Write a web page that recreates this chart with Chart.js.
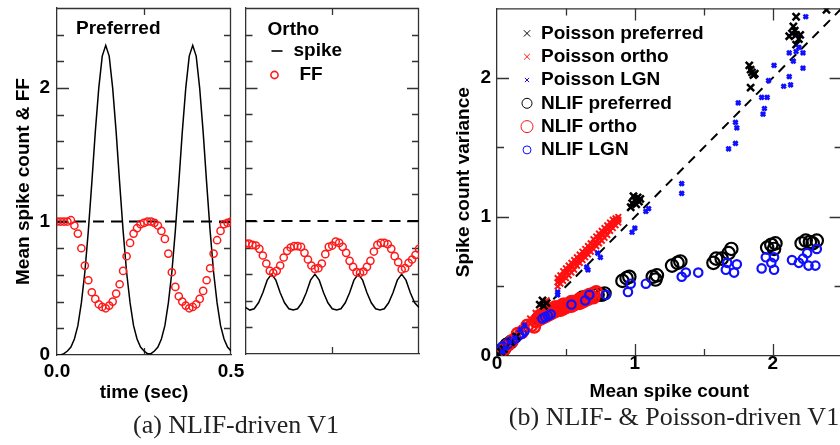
<!DOCTYPE html>
<html>
<head>
<meta charset="utf-8">
<script src="https://cdn.jsdelivr.net/npm/chart.js@4.4.1/dist/chart.umd.min.js"></script>
<style>
  html, body { margin: 0; padding: 0; background: #fff; width: 840px; height: 445px; overflow: hidden; }
  canvas { position: absolute; top: 0; }
  .caption {
    position: absolute; white-space: nowrap; transform: translateX(-50%);
    font-family: "Liberation Serif", "DejaVu Serif", serif; font-size: 26px; line-height: 30px; color: #222;
  }
</style>
</head>
<body>
<canvas id="prefChart" width="250" height="445" style="left:0"></canvas>
<canvas id="orthoChart" width="185" height="445" style="left:240px"></canvas>
<canvas id="scatterChart" width="430" height="445" style="left:420px"></canvas>
<div class="caption" style="left:236px;top:410px">(a) NLIF-driven V1</div>
<div class="caption" style="left:674px;top:402px">(b) NLIF- &amp; Poisson-driven V1</div>

<script>
// --- DONNEES : panneau (a) ---
const times = [0, 0.01, 0.02, 0.03, 0.04, 0.05, 0.06, 0.07, 0.08, 0.09,
  0.10, 0.11, 0.12, 0.13, 0.14, 0.15, 0.16, 0.17, 0.18, 0.19,
  0.20, 0.21, 0.22, 0.23, 0.24, 0.25, 0.26, 0.27, 0.28, 0.29,
  0.30, 0.31, 0.32, 0.33, 0.34, 0.35, 0.36, 0.37, 0.38, 0.39,
  0.40, 0.41, 0.42, 0.43, 0.44, 0.45, 0.46, 0.47, 0.48, 0.49, 0.50];

const prefSpike = [0.00, 0.00, 0.01, 0.03, 0.06, 0.12, 0.22, 0.39, 0.62, 0.93,
  1.29, 1.67, 2.00, 2.24, 2.32, 2.24, 2.00, 1.67, 1.29, 0.93,
  0.62, 0.39, 0.22, 0.12, 0.06, 0.03, 0.01, 0.01, 0.03, 0.06,
  0.12, 0.22, 0.39, 0.62, 0.93, 1.29, 1.67, 2.00, 2.24, 2.32,
  2.24, 2.00, 1.67, 1.29, 0.93, 0.62, 0.39, 0.22, 0.12, 0.06, 0.03];

const prefFF = [1.00, 1.00, 1.00, 1.00, 1.01, 0.97, 0.91, 0.80, 0.67, 0.56,
  0.47, 0.42, 0.38, 0.36, 0.35, 0.37, 0.40, 0.46, 0.53, 0.63,
  0.74, 0.84, 0.91, 0.95, 0.98, 0.99, 1.00, 1.00, 0.99, 0.97,
  0.93, 0.87, 0.76, 0.62, 0.51, 0.44, 0.40, 0.37, 0.35, 0.36,
  0.38, 0.42, 0.48, 0.56, 0.65, 0.76, 0.86, 0.93, 0.98, 0.99, 1.00];

const orthoTimes = [0, 0.0125, 0.025, 0.0375, 0.05, 0.0625, 0.075, 0.0875, 0.1, 0.1125,
  0.125, 0.1375, 0.15, 0.1625, 0.175, 0.1875, 0.2, 0.2125, 0.225, 0.2375,
  0.25, 0.2625, 0.275, 0.2875, 0.3, 0.3125, 0.325, 0.3375, 0.35, 0.3625,
  0.375, 0.3875, 0.4, 0.4125, 0.425, 0.4375, 0.45, 0.4625, 0.475, 0.4875, 0.5];

const orthoSpike = [0.35, 0.33, 0.34, 0.385, 0.46, 0.555, 0.60, 0.555, 0.46, 0.385,
  0.34, 0.33, 0.34, 0.385, 0.46, 0.555, 0.60, 0.555, 0.46, 0.385,
  0.34, 0.33, 0.34, 0.385, 0.46, 0.555, 0.60, 0.555, 0.46, 0.385,
  0.34, 0.33, 0.34, 0.385, 0.46, 0.555, 0.60, 0.555, 0.46, 0.385, 0.35];

const orthoFF = [0.83, 0.83, 0.82, 0.815, 0.79, 0.74, 0.68, 0.625, 0.61, 0.625,
  0.665, 0.725, 0.775, 0.80, 0.81, 0.81, 0.805, 0.76, 0.71, 0.665,
  0.64, 0.645, 0.68, 0.75, 0.805, 0.815, 0.845, 0.835, 0.805, 0.76,
  0.70, 0.655, 0.615, 0.61, 0.62, 0.655, 0.70, 0.77, 0.82, 0.835,
  0.835, 0.825, 0.79, 0.735, 0.69, 0.635, 0.645, 0.685, 0.71, 0.745, 0.79];

const ffReference = 1;   // ligne pointillée FF = 1

// --- DONNEES : panneau (b), paires [moyenne, variance] ---
const poissonPreferred = [[0.01, 0.01], [0.03, 0.03], [0.05, 0.05], [0.10, 0.10], [0.14, 0.14],
  [0.31, 0.37], [0.33, 0.40], [0.34, 0.36], [0.36, 0.38],
  [0.98, 1.10], [1.00, 1.12], [1.02, 1.14], [1.03, 1.11], [0.99, 1.15], [1.01, 1.09], [0.97, 1.07], [1.04, 1.13],
  [1.83, 2.09], [1.84, 2.06], [1.86, 2.02], [1.85, 2.04], [1.84, 1.93], [1.87, 2.03],
  [2.17, 2.44], [2.15, 2.37], [2.16, 2.34], [2.12, 2.30], [2.17, 2.31], [2.20, 2.31],
  [2.17, 2.24], [2.14, 2.32], [2.19, 2.28], [2.39, 2.49]];

const poissonOrtho = [[0.02, 0.02], [0.05, 0.06], [0.08, 0.09], [0.12, 0.13], [0.15, 0.16], [0.18, 0.20],
  [0.21, 0.23], [0.24, 0.27], [0.28, 0.31], [0.33, 0.37], [0.36, 0.40],
  [0.44, 0.50], [0.44, 0.53], [0.44, 0.56], [0.45, 0.545], [0.46, 0.52], [0.46, 0.55], [0.46, 0.58],
  [0.47, 0.565], [0.48, 0.54], [0.48, 0.57], [0.48, 0.61], [0.49, 0.585], [0.50, 0.56], [0.50, 0.60],
  [0.50, 0.63], [0.51, 0.605], [0.52, 0.58], [0.52, 0.62], [0.52, 0.65], [0.53, 0.625], [0.54, 0.60],
  [0.54, 0.64], [0.54, 0.67], [0.55, 0.645], [0.56, 0.62], [0.56, 0.66], [0.56, 0.69], [0.57, 0.67],
  [0.58, 0.65], [0.58, 0.68], [0.58, 0.71], [0.59, 0.69], [0.60, 0.67], [0.60, 0.70], [0.60, 0.73],
  [0.61, 0.71], [0.62, 0.69], [0.62, 0.72], [0.62, 0.75], [0.63, 0.73], [0.64, 0.71], [0.64, 0.74],
  [0.64, 0.77], [0.65, 0.75], [0.66, 0.73], [0.66, 0.76], [0.66, 0.79], [0.67, 0.77], [0.68, 0.75],
  [0.68, 0.78], [0.68, 0.81], [0.69, 0.795], [0.70, 0.77], [0.70, 0.80], [0.70, 0.84], [0.71, 0.815],
  [0.72, 0.79], [0.72, 0.82], [0.72, 0.86], [0.73, 0.835], [0.74, 0.81], [0.74, 0.85], [0.74, 0.88],
  [0.75, 0.855], [0.76, 0.83], [0.76, 0.87], [0.76, 0.90], [0.77, 0.875], [0.78, 0.85], [0.78, 0.89],
  [0.78, 0.92], [0.79, 0.895], [0.80, 0.87], [0.80, 0.91], [0.80, 0.94], [0.81, 0.92], [0.82, 0.90],
  [0.82, 0.93], [0.82, 0.96], [0.83, 0.94], [0.84, 0.92], [0.84, 0.95], [0.84, 0.98], [0.85, 0.96],
  [0.86, 0.94], [0.86, 0.97], [0.86, 0.99], [0.87, 0.98], [0.88, 0.96], [0.88, 0.98], [0.88, 1.00]];

const poissonLGN = [[2.24, 2.44], [2.12, 2.18], [2.15, 2.12], [2.22, 2.18], [2.19, 2.22], [2.22, 2.07], [2.17, 2.19],
  [2.01, 2.09], [2.12, 2.01], [2.08, 1.94], [2.13, 1.95], [1.97, 1.98], [1.92, 1.86], [1.96, 1.86], [1.75, 1.82],
  [1.94, 1.78], [1.93, 1.74], [1.73, 1.68], [1.74, 1.64], [1.73, 1.53], [1.68, 1.49], [1.34, 1.24], [1.34, 1.17],
  [1.10, 1.06], [1.08, 1.04], [1.00, 0.92], [0.98, 0.89], [0.75, 0.71], [0.73, 0.74], [0.66, 0.62], [0.65, 0.64],
  [0.44, 0.46], [0.44, 0.44], [0.06, 0.06], [0.09, 0.10], [0.13, 0.13], [0.17, 0.19], [0.20, 0.22], [0.04, 0.03]];

const nlifPreferred = [[0.00, 0.00], [0.01, 0.02], [0.02, 0.01], [0.03, 0.04], [0.05, 0.05], [0.07, 0.08], [0.10, 0.10],
  [0.30, 0.27], [0.33, 0.28], [0.36, 0.30], [0.40, 0.33], [0.62, 0.42], [0.73, 0.44], [0.78, 0.45], [0.76, 0.44],
  [0.91, 0.54], [0.94, 0.56], [0.96, 0.57], [1.13, 0.57], [1.16, 0.58], [1.15, 0.55],
  [1.27, 0.65], [1.31, 0.67], [1.33, 0.68], [1.57, 0.67], [1.59, 0.70], [1.63, 0.70], [1.68, 0.74], [1.70, 0.77],
  [1.96, 0.78], [1.99, 0.80], [2.01, 0.77], [2.02, 0.81], [2.21, 0.81], [2.24, 0.83], [2.27, 0.82], [2.32, 0.83], [2.29, 0.81]];

const nlifOrtho = [[0.02, 0.02], [0.05, 0.05], [0.08, 0.08], [0.11, 0.11], [0.15, 0.16], [0.18, 0.17], [0.22, 0.22],
  [0.25, 0.22], [0.27, 0.21], [0.28, 0.25],
  [0.30, 0.26], [0.31, 0.29], [0.32, 0.27], [0.33, 0.30], [0.34, 0.28], [0.35, 0.31], [0.36, 0.29], [0.37, 0.32],
  [0.38, 0.30], [0.39, 0.33], [0.40, 0.31], [0.41, 0.34], [0.42, 0.32], [0.43, 0.35], [0.44, 0.33], [0.45, 0.35],
  [0.46, 0.33], [0.47, 0.36], [0.48, 0.34], [0.49, 0.37], [0.50, 0.35], [0.51, 0.37], [0.52, 0.36], [0.53, 0.38],
  [0.54, 0.36], [0.55, 0.39], [0.56, 0.37], [0.57, 0.39], [0.58, 0.38], [0.59, 0.40], [0.60, 0.38], [0.61, 0.41],
  [0.62, 0.39], [0.63, 0.42], [0.64, 0.40], [0.65, 0.43], [0.66, 0.41], [0.67, 0.44], [0.68, 0.42], [0.70, 0.45],
  [0.72, 0.46], [0.36, 0.32], [0.42, 0.35], [0.48, 0.37], [0.54, 0.39], [0.60, 0.41], [0.66, 0.43], [0.70, 0.42]];

const nlifLGN = [[0.01, 0.01], [0.03, 0.04], [0.04, 0.07], [0.07, 0.08], [0.09, 0.10], [0.11, 0.11], [0.14, 0.13],
  [0.16, 0.15], [0.18, 0.16], [0.20, 0.18], [0.33, 0.27], [0.35, 0.28], [0.37, 0.29], [0.39, 0.30], [0.54, 0.37],
  [0.64, 0.40], [0.67, 0.44], [0.79, 0.44], [0.95, 0.46], [0.97, 0.52], [1.08, 0.52], [1.34, 0.57], [1.37, 0.60],
  [1.46, 0.60], [1.66, 0.62], [1.67, 0.67], [1.72, 0.60], [1.74, 0.66], [1.92, 0.63], [1.95, 0.71], [1.99, 0.67],
  [2.01, 0.62], [2.01, 0.71], [2.14, 0.69], [2.19, 0.67], [2.22, 0.70], [2.25, 0.74], [2.26, 0.65], [2.31, 0.65], [2.32, 0.77]];

const identityLine = [0, 2.5];   // diagonale variance = moyenne

// --- STYLE GLOBAL ---
const SANS = '"Liberation Sans", Arial, Helvetica, sans-serif';
Chart.defaults.font.family = SANS;
Chart.defaults.font.size = 19;
Chart.defaults.font.weight = 'bold';
Chart.defaults.color = '#000';
Chart.defaults.animation = false;
Chart.defaults.plugins.legend.display = false;
Chart.defaults.plugins.tooltip.enabled = false;

const NONE = 'rgba(0,0,0,0)';
const FRAME = '#333';
const toXY = (xs, ys) => xs.map((x, i) => ({ x: x, y: ys[i] }));
const pairs = arr => arr.map(p => ({ x: p[0], y: p[1] }));

// Cadre (haut/droite) + graduations vers l'intérieur sur les quatre côtés
const frameTicks = {
  id: 'frameTicks',
  beforeDatasetsDraw(chart, args, o) {
    const { ctx, chartArea: a, scales: { x, y } } = chart;
    ctx.save();
    ctx.strokeStyle = FRAME;
    ctx.lineWidth = 1.3;
    ctx.beginPath();
    ctx.moveTo(a.left, a.top + 0.5); ctx.lineTo(a.right, a.top + 0.5);
    ctx.moveTo(a.right - 0.5, a.top); ctx.lineTo(a.right - 0.5, a.bottom);
    ctx.stroke();
    const mark = (scale, minor, major, vertical) => {
      const n = Math.round((scale.max - scale.min) / minor);
      for (let k = 1; k <= n; k++) {
        const v = scale.min + k * minor;
        if (v > scale.max - 1e-9) break;
        const isMajor = Math.abs(v / major - Math.round(v / major)) < 1e-6;
        const len = isMajor ? 12 : 7;
        const p = Math.round(scale.getPixelForValue(v)) + 0.5;
        ctx.beginPath();
        if (vertical) {
          ctx.moveTo(p, a.bottom); ctx.lineTo(p, a.bottom - len);
          ctx.moveTo(p, a.top); ctx.lineTo(p, a.top + len);
        } else {
          ctx.moveTo(a.left, p); ctx.lineTo(a.left + len, p);
          ctx.moveTo(a.right, p); ctx.lineTo(a.right - len, p);
        }
        ctx.stroke();
      }
    };
    mark(x, o.xMinor, o.xMajor, true);
    mark(y, o.yMinor, o.yMajor, false);
    ctx.restore();
  }
};

// Légende libre : texte + marqueur dessinés dans la zone du graphique
const freeLegend = {
  id: 'freeLegend',
  afterDatasetsDraw(chart, args, o) {
    const { ctx, chartArea: a } = chart;
    ctx.save();
    ctx.font = 'bold 19px ' + SANS;
    ctx.textBaseline = 'middle';
    o.items.forEach(it => {
      const y = a.top + it.dy;
      if (it.marker === 'line') {
        ctx.strokeStyle = '#000'; ctx.lineWidth = 1.6;
        ctx.beginPath(); ctx.moveTo(a.left + it.mx - 5, y); ctx.lineTo(a.left + it.mx + 6, y); ctx.stroke();
      } else if (it.marker) {
        ctx.strokeStyle = it.marker.color;
        ctx.fillStyle = NONE;
        Chart.helpers.drawPoint(ctx, it.marker, a.left + it.mx, y);
      }
      ctx.fillStyle = '#000';
      ctx.fillText(it.text, a.left + it.tx, y);
    });
    ctx.restore();
  }
};

// largeur/hauteur d'axe fixes, sans marge automatique pour les étiquettes
const fixBox = (w, h) => s => {
  if (w !== null) s.width = w;
  if (h !== null) s.height = h;
  s.paddingTop = 0; s.paddingBottom = 0; s.paddingLeft = 0; s.paddingRight = 0;
};

function linAxis(min, max, step, extra) {
  return Object.assign({
    type: 'linear', min: min, max: max,
    grid: { display: false, drawTicks: false },
    border: { display: true, color: FRAME, width: 1.3 },
    ticks: { stepSize: step, includeBounds: false, padding: 7 }
  }, extra);
}

// --- PANNEAU (a) PREFERRED ---
new Chart(document.getElementById('prefChart'), {
  type: 'scatter',
  data: {
    datasets: [
      { data: toXY(times, prefFF), showLine: false, pointStyle: 'circle', pointRadius: 3.6,
        borderColor: '#ff1a1a', backgroundColor: NONE, borderWidth: 1.5 },
      { data: toXY(times, prefSpike), showLine: true, pointRadius: 0, borderColor: '#000', borderWidth: 1.5 },
      { data: toXY([0, 0.5], [ffReference, ffReference]), showLine: true, pointRadius: 0,
        borderColor: '#000', borderWidth: 2, borderDash: [11, 7] }
    ]
  },
  options: {
    responsive: false,
    layout: { padding: { left: 0, right: 19, top: 8, bottom: 40 } },
    scales: {
      x: linAxis(0, 0.5, 0.5, {
        ticks: { stepSize: 0.5, includeBounds: false, padding: 5, callback: v => v.toFixed(1) },
        title: { display: true, text: 'time (sec)', padding: { top: 0, bottom: 1 } },
        afterFit: fixBox(null, 50)
      }),
      y: linAxis(0, 2.6, 1, {
        title: { display: true, text: 'Mean spike count & FF', padding: { top: 12, bottom: 0 } },
        afterFit: fixBox(57, null)
      })
    },
    plugins: {
      frameTicks: { xMinor: 0.25, xMajor: 0.5, yMinor: 0.2, yMajor: 1 },
      freeLegend: { items: [{ text: 'Preferred', tx: 19, dy: 21 }] }
    }
  },
  plugins: [frameTicks, freeLegend]
});

// --- PANNEAU (a) ORTHO ---
new Chart(document.getElementById('orthoChart'), {
  type: 'scatter',
  data: {
    datasets: [
      { data: toXY(times, orthoFF), showLine: false, pointStyle: 'circle', pointRadius: 3.6,
        borderColor: '#ff1a1a', backgroundColor: NONE, borderWidth: 1.5 },
      { data: toXY(orthoTimes, orthoSpike), showLine: true, pointRadius: 0, borderColor: '#000', borderWidth: 1.5 },
      { data: toXY([0, 0.5], [ffReference, ffReference]), showLine: true, pointRadius: 0,
        borderColor: '#000', borderWidth: 2, borderDash: [11, 7] }
    ]
  },
  options: {
    responsive: false,
    layout: { padding: { left: 0, right: 6, top: 8, bottom: 40 } },
    scales: {
      x: linAxis(0, 0.5, 0.5, { ticks: { display: false }, afterFit: fixBox(null, 51) }),
      y: linAxis(0, 2.6, 1, { ticks: { display: false }, afterFit: fixBox(4, null) })
    },
    plugins: {
      frameTicks: { xMinor: 0.25, xMajor: 0.5, yMinor: 0.2, yMajor: 1 },
      freeLegend: { items: [
        { text: 'Ortho', tx: 22, dy: 22 },
        { text: 'spike', tx: 48, dy: 43, marker: 'line', mx: 31 },
        { text: 'FF', tx: 54, dy: 67, mx: 29,
          marker: { pointStyle: 'circle', radius: 3.6, borderWidth: 1.5, rotation: 0, color: '#ff1a1a' } }
      ] }
    }
  },
  plugins: [frameTicks, freeLegend]
});

// --- PANNEAU (b) ---
const BLUE = '#1010ff', RED = '#ff1010', BLACK = '#000';
const scatterSets = [
  { label: 'Poisson LGN', data: pairs(poissonLGN), pointStyle: 'crossRot', pointRadius: 3, borderWidth: 2.8, borderColor: BLUE },
  { label: 'Poisson preferred', data: pairs(poissonPreferred), pointStyle: 'crossRot', pointRadius: 5, borderWidth: 2.5, borderColor: BLACK },
  { label: 'Poisson ortho', data: pairs(poissonOrtho), pointStyle: 'crossRot', pointRadius: 4, borderWidth: 2, borderColor: RED },
  { label: 'NLIF LGN', data: pairs(nlifLGN), pointStyle: 'circle', pointRadius: 4.2, borderWidth: 2.2, borderColor: BLUE },
  { label: 'NLIF ortho', data: pairs(nlifOrtho), pointStyle: 'circle', pointRadius: 5.8, borderWidth: 2.4, borderColor: RED },
  { label: 'NLIF preferred', data: pairs(nlifPreferred), pointStyle: 'circle', pointRadius: 6.2, borderWidth: 2.2, borderColor: BLACK },
  { label: 'identity', data: toXY(identityLine, identityLine), showLine: true, pointRadius: 0,
    borderColor: BLACK, borderWidth: 2, borderDash: [9, 7] }
];
scatterSets.forEach(d => { d.backgroundColor = NONE; });

const legendRows = [
  ['Poisson preferred', 'crossRot', 4.5, 2.2, BLACK],
  ['Poisson ortho', 'crossRot', 4, 2.2, RED],
  ['Poisson LGN', 'crossRot', 3, 2.6, BLUE],
  ['NLIF preferred', 'circle', 5, 2.2, BLACK],
  ['NLIF ortho', 'circle', 6, 2.6, RED],
  ['NLIF LGN', 'circle', 4, 2.2, BLUE]
];

new Chart(document.getElementById('scatterChart'), {
  type: 'scatter',
  data: { datasets: scatterSets },
  options: {
    responsive: false,
    layout: { padding: { left: 0, right: 7, top: 8, bottom: 40 } },
    scales: {
      x: linAxis(0, 2.5, 1, {
        ticks: { stepSize: 1, includeBounds: false, padding: -4 },
        title: { display: true, text: 'Mean spike count', padding: { top: 0, bottom: 2 } },
        afterFit: fixBox(null, 49)
      }),
      y: linAxis(0, 2.5, 1, {
        ticks: { stepSize: 1, includeBounds: false, padding: 6 },
        title: { display: true, text: 'Spike count variance', padding: { top: 32, bottom: 0 } },
        afterFit: fixBox(77, null)
      })
    },
    plugins: {
      frameTicks: { xMinor: 0.5, xMajor: 1, yMinor: 0.5, yMajor: 1 },
      freeLegend: { items: legendRows.map((r, i) => ({
        text: r[0], tx: 44, mx: 30, dy: 25 + i * 23.3,
        marker: { pointStyle: r[1], radius: r[2], borderWidth: r[3], rotation: 0, color: r[4] }
      })) }
    }
  },
  plugins: [frameTicks, freeLegend]
});
</script>
</body>
</html>
